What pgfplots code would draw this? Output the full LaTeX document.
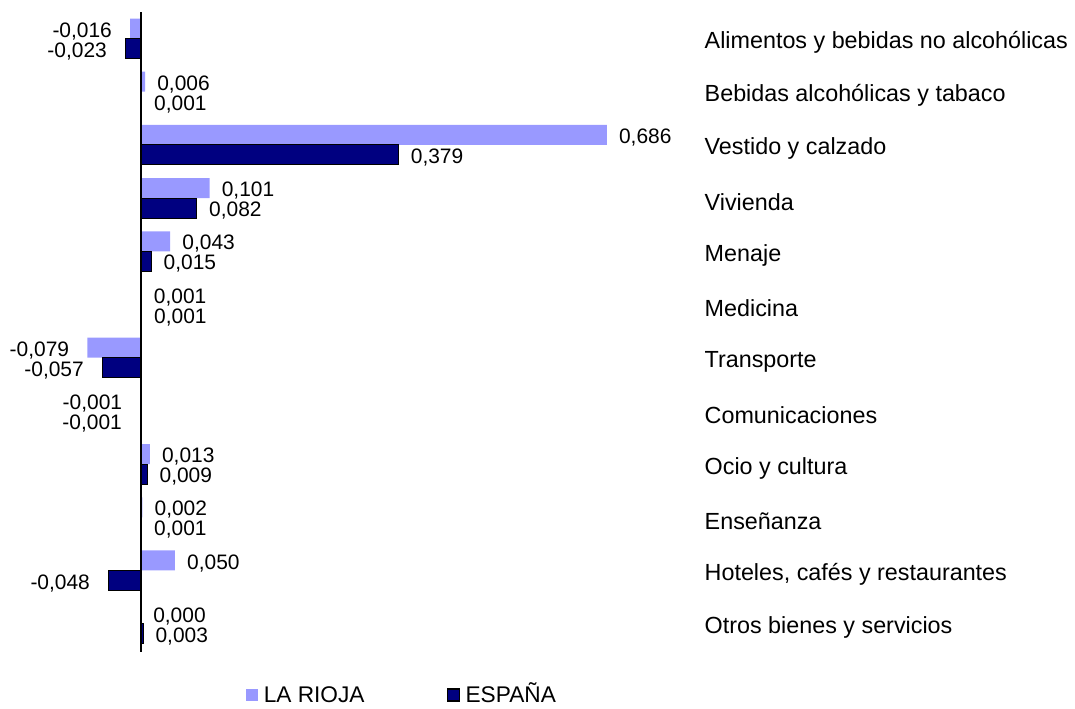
\documentclass[border=0pt]{standalone}
\usepackage{fontspec}
\setmainfont{Liberation Sans}
\usepackage{pgfplots}
\pgfplotsset{compat=1.18}
\definecolor{rioja}{HTML}{9999FF}
\definecolor{espana}{HTML}{000080}
\begin{document}
\begin{tikzpicture}[x=1pt,y=1pt]
\useasboundingbox (0,0) rectangle (806.25,531);
\begin{axis}[
  at={(0,0)}, anchor=south west,
  scale only axis, width=525pt, height=531pt,
  xmin=-0.20766, xmax=0.82327,
  ymin=-0.7237, ymax=12.585, y dir=reverse,
  axis line style={draw=none},
  xtick=\empty,
  ytick={0,1,2,3,4,5,6,7,8,9,10,11},
  yticklabels={Alimentos y bebidas no alcohólicas, Bebidas alcohólicas y tabaco, Vestido y calzado, Vivienda, Menaje, Medicina, Transporte, Comunicaciones, Ocio y cultura, Enseñanza, {Hoteles, cafés y restaurantes}, Otros bienes y servicios},
  yticklabel pos=right,
  major tick length=0pt,
  yticklabel style={anchor=west, yshift=-3pt, font=\fontsize{17.5}{20}\selectfont},
  clip=false,
  bar width=0.376,
  point meta=x,
  nodes near coords,
  nodes near coords align={horizontal},
  every node near coord/.append style={font=\fontsize{15.7}{18}\selectfont, inner xsep=9pt, yshift=-2pt, text=black},
  /pgf/number format/.cd, fixed, fixed zerofill, precision=3, use comma, 1000 sep={}, assume math mode=true,
  /pgfplots/.cd,
  legend columns=2,
  legend style={at={(axis description cs:0.575,0.0165)}, anchor=center, draw=none, fill=none,
    font=\fontsize{17}{20}\selectfont,
    nodes={text height=12.5pt, text depth=3pt},
    /tikz/every odd column/.append style={column sep=2pt},
    /tikz/every even column/.append style={column sep=60pt}},
]
% LA RIOJA: non-negative values
\addplot[xbar, bar shift=0, fill=rioja, draw=none,
  legend image code/.code={\fill[rioja] (0pt,-3.5pt) rectangle (9pt,5.5pt);}]
  coordinates {(0.006,0.812) (0.686,1.812) (0.101,2.812) (0.043,3.812) (0.001,4.812) (0.013,7.812) (0.002,8.812) (0.050,9.812) (0.000,10.812)};
\addlegendentry{LA RIOJA}
% LA RIOJA: negative values
\addplot[xbar, bar shift=0, fill=rioja, draw=none, forget plot,
  every node near coord/.append style={xshift=-4.5pt}]
  coordinates {(-0.016,-0.188) (-0.079,5.812) (-0.001,6.812)};
% ESPANA: non-negative values
\addplot[xbar, bar shift=0, fill=espana, draw=black, line width=0.8pt,
  legend image code/.code={\draw[fill=espana, draw=black, line width=0.8pt] (0pt,-3.5pt) rectangle (9pt,5.5pt);}]
  coordinates {(0.001,1.188) (0.379,2.188) (0.082,3.188) (0.015,4.188) (0.001,5.188) (0.009,8.188) (0.001,9.188) (0.003,11.188)};
\addlegendentry{ESPAÑA}
% ESPANA: negative values
\addplot[xbar, bar shift=0, fill=espana, draw=black, line width=0.8pt, forget plot,
  every node near coord/.append style={xshift=-4.5pt}]
  coordinates {(-0.023,0.188) (-0.057,6.188) (-0.001,7.188) (-0.048,10.188)};
\draw[line width=1.2pt] (axis cs:0,-0.498) -- (axis cs:0,11.53);
\end{axis}
\end{tikzpicture}
\end{document}
